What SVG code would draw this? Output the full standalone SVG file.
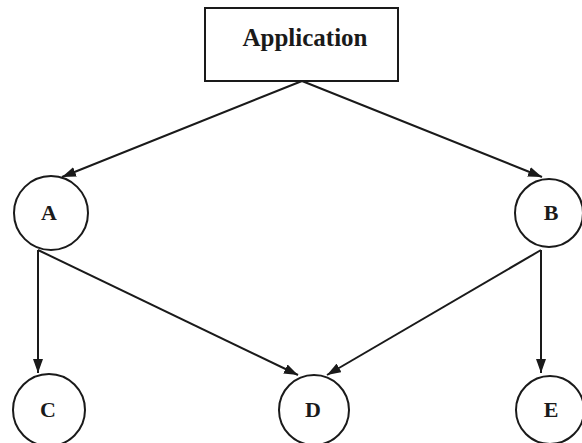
<svg xmlns="http://www.w3.org/2000/svg" width="582" height="443" viewBox="0 0 582 443">
<style>
.n{fill:#fff;stroke:#1a1a1a;stroke-width:2}
.t{font-family:"Liberation Serif",serif;font-weight:bold;fill:#1a1a1a;text-anchor:middle;dominant-baseline:central}
.c{stroke:#1a1a1a;stroke-width:2;fill:none;marker-end:url(#ah)}
</style>
<defs>
<marker id="ah" viewBox="0 0 14 10" refX="14" refY="5" markerWidth="14" markerHeight="10" markerUnits="userSpaceOnUse" orient="auto">
<path d="M0,0 L14,5 L0,10 z" fill="#1a1a1a"/>
</marker>
</defs>
<rect width="582" height="443" fill="#fff"/>
<g id="connectors">
<line class="c" x1="302" y1="81" x2="62" y2="177"/>
<line class="c" x1="302" y1="81" x2="542" y2="177"/>
<line class="c" x1="38" y1="250" x2="38" y2="373"/>
<line class="c" x1="38" y1="250" x2="298" y2="375"/>
<line class="c" x1="541" y1="250" x2="327" y2="375"/>
<line class="c" x1="541" y1="250" x2="541" y2="373"/>
</g>
<g id="application">
<rect class="n" x="205" y="8" width="193" height="73"/>
<text class="t" x="305" y="37" font-size="25">Application</text>
</g>
<g id="A"><circle class="n" cx="51" cy="213" r="37"/><text class="t" x="49" y="212" font-size="22">A</text></g>
<g id="B"><circle class="n" cx="549" cy="213" r="34"/><text class="t" x="551" y="212" font-size="22">B</text></g>
<g id="C"><circle class="n" cx="49" cy="410" r="36"/><text class="t" x="48" y="409" font-size="22">C</text></g>
<g id="D"><circle class="n" cx="314" cy="410" r="35"/><text class="t" x="313" y="409" font-size="22">D</text></g>
<g id="E"><circle class="n" cx="550" cy="410" r="34"/><text class="t" x="551" y="409" font-size="22">E</text></g>
</svg>
